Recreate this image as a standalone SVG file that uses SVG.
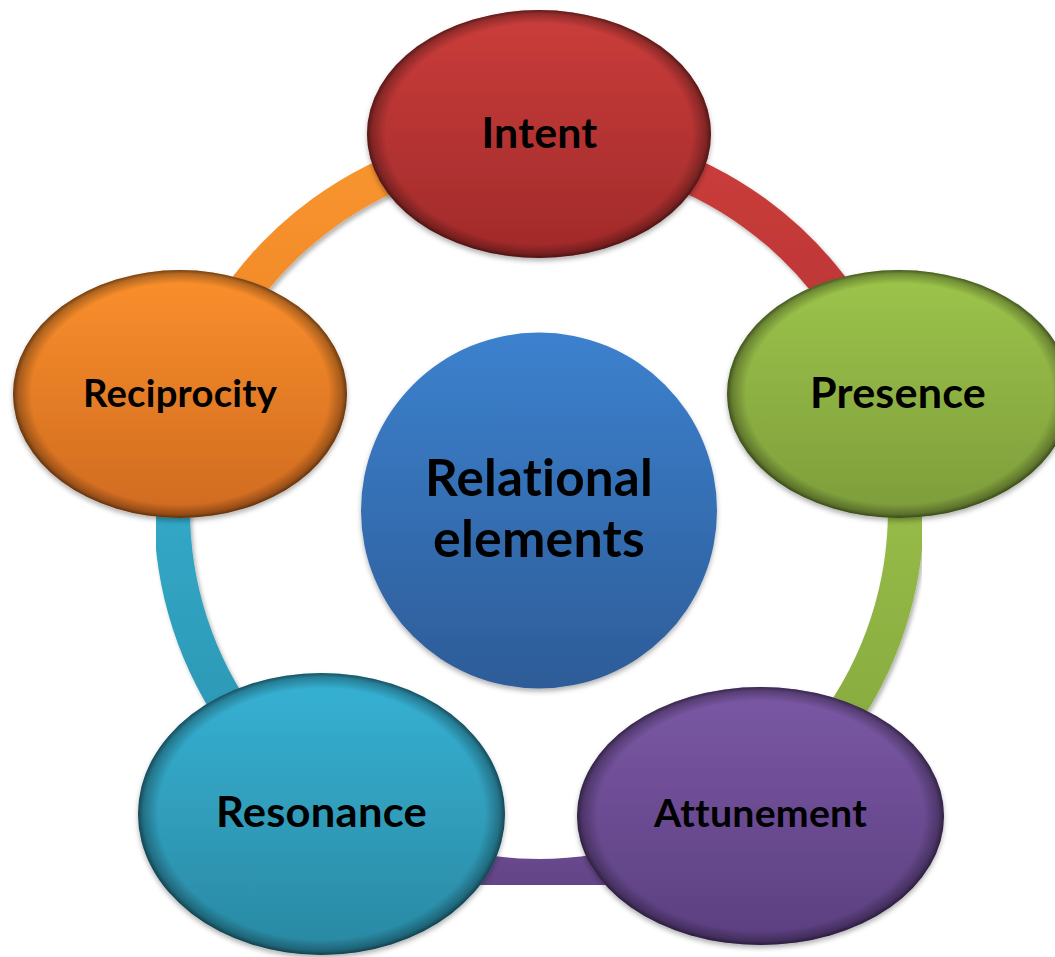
<svg xmlns="http://www.w3.org/2000/svg" width="1055" height="957" viewBox="0 0 1055 957">
  <style>
    .lbl { font-family: Lato, "Open Sans", "Liberation Sans", sans-serif; font-weight: bold; fill: #000; text-anchor: middle; font-variant-ligatures: none; font-feature-settings: "liga" 0, "clig" 0, "dlig" 0; letter-spacing: 0.2px; }
    .seg { fill: none; stroke-width: 36; filter: url(#segShadow); }
    .rim { fill: url(#rim); }
  </style>
  <defs>
    <filter id="segShadow" x="-10%" y="-10%" width="120%" height="120%">
      <feDropShadow dx="2" dy="3" stdDeviation="2" flood-color="#000" flood-opacity="0.3"/>
    </filter>
    <filter id="nodeShadow" x="-10%" y="-10%" width="120%" height="125%">
      <feDropShadow dx="0" dy="3" stdDeviation="2.5" flood-color="#000" flood-opacity="0.3"/>
    </filter>
    <radialGradient id="rim" cx="0.5" cy="0.5" r="0.5">
      <stop offset="0.89" stop-color="#000" stop-opacity="0"/>
      <stop offset="0.97" stop-color="#000" stop-opacity="0.28"/>
      <stop offset="1" stop-color="#000" stop-opacity="0.55"/>
    </radialGradient>
    <linearGradient id="gRed" x1="0" y1="0" x2="0" y2="1"><stop offset="0" stop-color="#cb3d3b"/><stop offset="1" stop-color="#a02a2a"/></linearGradient>
    <linearGradient id="gGreen" x1="0" y1="0" x2="0" y2="1"><stop offset="0" stop-color="#9dc54b"/><stop offset="1" stop-color="#7d9c3b"/></linearGradient>
    <linearGradient id="gPurple" x1="0" y1="0" x2="0" y2="1"><stop offset="0" stop-color="#7b58a5"/><stop offset="1" stop-color="#5b3f7f"/></linearGradient>
    <linearGradient id="gCyan" x1="0" y1="0" x2="0" y2="1"><stop offset="0" stop-color="#36b2d4"/><stop offset="1" stop-color="#2a88a2"/></linearGradient>
    <linearGradient id="gOrange" x1="0" y1="0" x2="0" y2="1"><stop offset="0" stop-color="#fb902d"/><stop offset="1" stop-color="#cf6a1f"/></linearGradient>
    <linearGradient id="gBlue" x1="0" y1="0" x2="0" y2="1"><stop offset="0" stop-color="#3c81ce"/><stop offset="1" stop-color="#2d5c98"/></linearGradient>
    <linearGradient id="sRed" x1="0" y1="0" x2="0" y2="1"><stop offset="0" stop-color="#ca3d3b"/><stop offset="1" stop-color="#b83333"/></linearGradient>
    <linearGradient id="sGreen" x1="0" y1="0" x2="0" y2="1"><stop offset="0" stop-color="#9cc34a"/><stop offset="1" stop-color="#84a63e"/></linearGradient>
    <linearGradient id="sPurple" x1="0" y1="0" x2="0" y2="1"><stop offset="0" stop-color="#71509a"/><stop offset="1" stop-color="#644588"/></linearGradient>
    <linearGradient id="sCyan" x1="0" y1="0" x2="0" y2="1"><stop offset="0" stop-color="#34afd0"/><stop offset="1" stop-color="#2b93ae"/></linearGradient>
    <linearGradient id="sOrange" x1="0" y1="0" x2="0" y2="1"><stop offset="0" stop-color="#f9962f"/><stop offset="1" stop-color="#ee8428"/></linearGradient>
  </defs>
  <rect width="1055" height="957" fill="#ffffff"/>

  <g id="connectors">
    <path class="seg" stroke="url(#sRed)" d="M 539 143 A 367 367 0 0 1 888.04 396.59"/>
    <path class="seg" stroke="url(#sGreen)" d="M 888.04 396.59 A 367 367 0 0 1 754.72 806.91"/>
    <path class="seg" stroke="url(#sPurple)" d="M 754.72 806.91 A 367 367 0 0 1 323.28 806.91"/>
    <path class="seg" stroke="url(#sCyan)" d="M 323.28 806.91 A 367 367 0 0 1 189.96 396.59"/>
    <path class="seg" stroke="url(#sOrange)" d="M 189.96 396.59 A 367 367 0 0 1 539 143"/>
  </g>

  <g id="center">
    <circle cx="539" cy="510.5" r="178" fill="url(#gBlue)" filter="url(#nodeShadow)"/>
    <text class="lbl" x="539" y="496" font-size="51" textLength="228" lengthAdjust="spacingAndGlyphs">Relational</text>
    <text class="lbl" x="539" y="557" font-size="51" textLength="212" lengthAdjust="spacingAndGlyphs">elements</text>
  </g>

  <g id="intent">
    <ellipse cx="539" cy="134" rx="172" ry="124" fill="url(#gRed)" filter="url(#nodeShadow)"/>
    <ellipse class="rim" cx="539" cy="134" rx="172" ry="124"/>
    <text class="lbl" x="539.5" y="148" font-size="42" textLength="116" lengthAdjust="spacingAndGlyphs">Intent</text>
  </g>

  <g id="presence">
    <ellipse cx="899" cy="394" rx="172" ry="124" fill="url(#gGreen)" filter="url(#nodeShadow)"/>
    <ellipse class="rim" cx="899" cy="394" rx="172" ry="124"/>
    <text class="lbl" x="898" y="408" font-size="42" textLength="176" lengthAdjust="spacingAndGlyphs">Presence</text>
  </g>

  <g id="attunement">
    <ellipse cx="760.5" cy="816" rx="183.5" ry="129" fill="url(#gPurple)" filter="url(#nodeShadow)"/>
    <ellipse class="rim" cx="760.5" cy="816" rx="183.5" ry="129"/>
    <text class="lbl" x="760.5" y="827" font-size="38" textLength="213" lengthAdjust="spacingAndGlyphs">Attunement</text>
  </g>

  <g id="resonance">
    <ellipse cx="321.5" cy="814" rx="183.5" ry="141" fill="url(#gCyan)" filter="url(#nodeShadow)"/>
    <ellipse class="rim" cx="321.5" cy="814" rx="183.5" ry="141"/>
    <text class="lbl" x="321.5" y="827" font-size="42" textLength="211" lengthAdjust="spacingAndGlyphs">Resonance</text>
  </g>

  <g id="reciprocity">
    <ellipse cx="180" cy="394" rx="167" ry="124" fill="url(#gOrange)" filter="url(#nodeShadow)"/>
    <ellipse class="rim" cx="180" cy="394" rx="167" ry="124"/>
    <text class="lbl" x="180" y="407" font-size="38" textLength="194" lengthAdjust="spacingAndGlyphs">Reciprocity</text>
  </g>
</svg>
